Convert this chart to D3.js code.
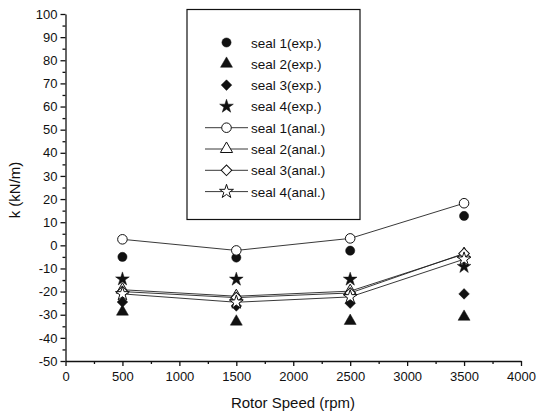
<!DOCTYPE html>
<meta charset="utf-8">
<style>
  body { margin: 0; background: #fff; }
  text { font-family: "Liberation Sans", Arial, sans-serif; fill: #111; }
  .axis path, .axis line { stroke: #111; stroke-width: 1.3; }
</style>
<body></body>
<script src="https://d3js.org/d3.v7.min.js"></script>
<script>

var speeds = [500, 1500, 2500, 3500];

var seal1Exp = [-5.0, -5.3, -2.3, 12.7];
var seal2Exp = [-28.7, -33.0, -32.7, -30.9];
var seal3Exp = [-24.5, -26.2, -25.0, -21.0];
var seal4Exp = [-14.6, -14.7, -14.7, -9.2];

var seal1Anal = [2.6, -2.2, 3.0, 18.2];
var seal2Anal = [-19.2, -22.0, -19.8, -3.8];
var seal3Anal = [-20.0, -22.6, -20.6, -3.5];
var seal4Anal = [-21.0, -24.6, -22.3, -6.0];

var legendLabels = ["seal 1(exp.)", "seal 2(exp.)", "seal 3(exp.)", "seal 4(exp.)",
                    "seal 1(anal.)", "seal 2(anal.)", "seal 3(anal.)", "seal 4(anal.)"];

var width = 537, height = 417;

var svg = d3.select("body").append("svg")
    .attr("width", width)
    .attr("height", height);

var x = d3.scaleLinear().domain([0, 4000]).range([65.5, 521]);
var y = d3.scaleLinear().domain([-50, 100]).range([361, 14]);

var plain = function (d) { return String(d); };

// minor ticks first
svg.append("g")
    .attr("class", "axis")
    .attr("transform", "translate(" + x(0) + ",0)")
    .call(d3.axisLeft(y).tickValues(d3.range(-45, 100, 10)).tickSize(3).tickFormat(""))
    .call(function (g) { g.select(".domain").remove(); });

svg.append("g")
    .attr("class", "axis")
    .attr("transform", "translate(0," + y(-50) + ")")
    .call(d3.axisBottom(x).tickValues(d3.range(250, 4000, 500)).tickSize(3).tickFormat(""))
    .call(function (g) { g.select(".domain").remove(); });

var yAxis = svg.append("g")
    .attr("class", "axis")
    .attr("transform", "translate(" + x(0) + ",0)")
    .call(d3.axisLeft(y).tickValues(d3.range(-50, 101, 10)).tickFormat(plain)
      .tickSize(5).tickSizeOuter(0).tickPadding(3));
yAxis.selectAll("text").style("font-size", "13px");

var xAxis = svg.append("g")
    .attr("class", "axis")
    .attr("transform", "translate(0," + y(-50) + ")")
    .call(d3.axisBottom(x).tickValues(d3.range(0, 4001, 500)).tickFormat(plain)
      .tickSize(5).tickSizeOuter(0).tickPadding(6));
xAxis.selectAll("text").style("font-size", "13px");

svg.append("text")
    .attr("x", 293).attr("y", 408)
    .attr("text-anchor", "middle")
    .style("font-size", "15px")
    .text("Rotor Speed (rpm)");

svg.append("text")
    .attr("transform", "translate(20,190) rotate(-90)")
    .attr("text-anchor", "middle")
    .style("font-size", "15px")
    .text("k (kN/m)");

var sym = {
  circle: d3.symbol().type(d3.symbolCircle),
  triangle: d3.symbol().type(d3.symbolTriangle),
  diamond: d3.symbol().type(d3.symbolSquare),
  star: d3.symbol().type(d3.symbolStar)
};

var series = [
  { values: seal1Exp, shape: "circle", size: 66, open: false, line: false },
  { values: seal2Exp, shape: "triangle", size: 62, open: false, line: false },
  { values: seal3Exp, shape: "diamond", size: 56, open: false, line: false },
  { values: seal4Exp, shape: "star", size: 58, open: false, line: false },
  { values: seal1Anal, shape: "circle", size: 72, open: true, line: true },
  { values: seal2Anal, shape: "triangle", size: 64, open: true, line: true },
  { values: seal3Anal, shape: "diamond", size: 56, open: true, line: true },
  { values: seal4Anal, shape: "star", size: 60, open: true, line: true }
];

var line = d3.line()
    .x(function (d, i) { return x(speeds[i]); })
    .y(function (d) { return y(d); });

function marker(g, s, px, py) {
  var rot = s.shape === "diamond" ? " rotate(45)" : "";
  g.append("path")
    .attr("d", sym[s.shape].size(s.size)())
    .attr("transform", "translate(" + px + "," + py + ")" + rot)
    .attr("fill", s.open ? "#fff" : "#111")
    .attr("stroke", "#111")
    .attr("stroke-width", s.open ? 1 : 0.5);
}

var plot = svg.append("g");

series.forEach(function (s) {
  if (s.line) {
    plot.append("path")
      .attr("d", line(s.values))
      .attr("fill", "none")
      .attr("stroke", "#222")
      .attr("stroke-width", 0.9);
  }
});

series.forEach(function (s) {
  s.values.forEach(function (v, i) {
    marker(plot, s, x(speeds[i]), y(v));
  });
});

// legend
var legend = svg.append("g");
legend.append("rect")
    .attr("x", 187).attr("y", 9.5)
    .attr("width", 173).attr("height", 210)
    .attr("fill", "#fff")
    .attr("stroke", "#111")
    .attr("stroke-width", 1.2);

series.forEach(function (s, i) {
  var ly = 42.5 + i * 21.3;
  if (s.line) {
    legend.append("line")
      .attr("x1", 205).attr("x2", 248)
      .attr("y1", ly).attr("y2", ly)
      .attr("stroke", "#222")
      .attr("stroke-width", 0.9);
  }
  marker(legend, s, 226.5, ly);
  legend.append("text")
    .attr("x", 251).attr("y", ly + 5)
    .style("font-size", "13.5px")
    .text(legendLabels[i]);
});

</script>
